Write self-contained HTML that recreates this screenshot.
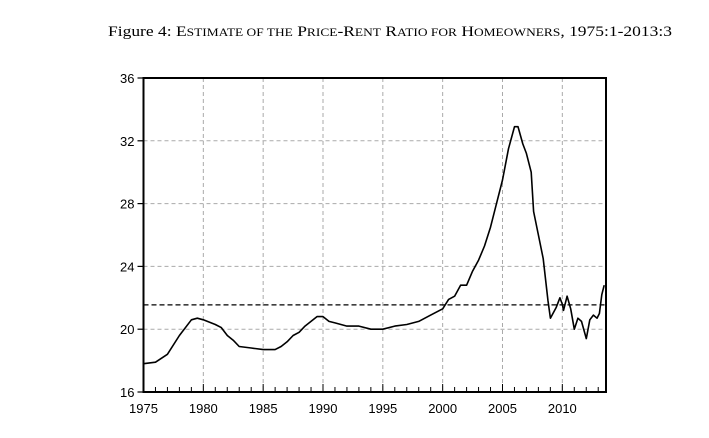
<!DOCTYPE html>
<html><head><meta charset="utf-8"><style>
body{margin:0;background:#fff;width:709px;height:438px;overflow:hidden}
</style></head><body>
<svg id="c" width="709" height="438" style="position:absolute;left:0;top:0">
<text x="108" y="36" textLength="564" lengthAdjust="spacingAndGlyphs" font-family="Liberation Serif,serif" font-size="15">Figure 4: E<tspan font-size="11.5">STIMATE OF THE</tspan> P<tspan font-size="11.5">RICE</tspan>-R<tspan font-size="11.5">ENT</tspan> R<tspan font-size="11.5">ATIO FOR</tspan> H<tspan font-size="11.5">OMEOWNERS</tspan>, 1975:1-2013:3</text>
</svg>
<script>
const years=[1975,1976,1977,1978,1979,1979.5,1980,1981,1981.5,1982,1982.5,1983,1984,1985,1986,1986.5,1987,1987.5,1988,1988.5,1989,1989.5,1990,1990.5,1991,1992,1993,1994,1995,1996,1997,1998,1999,2000,2000.5,2001,2001.5,2002,2002.5,2003,2003.5,2004,2004.5,2005,2005.5,2006,2006.3,2006.7,2007,2007.4,2007.6,2008,2008.4,2008.8,2009,2009.5,2009.8,2010,2010.1,2010.4,2010.7,2011,2011.3,2011.6,2012,2012.3,2012.6,2012.9,2013.1,2013.3,2013.5];
const ratio=[17.8,17.9,18.4,19.6,20.6,20.7,20.6,20.3,20.1,19.6,19.3,18.9,18.8,18.7,18.7,18.9,19.2,19.6,19.8,20.2,20.5,20.8,20.8,20.5,20.4,20.2,20.2,20.0,20.0,20.2,20.3,20.5,20.9,21.3,21.9,22.1,22.8,22.8,23.7,24.4,25.3,26.5,28.0,29.5,31.5,32.9,32.9,31.8,31.2,30.0,27.5,26.0,24.5,21.8,20.7,21.4,22.0,21.6,21.2,22.1,21.3,20.0,20.7,20.5,19.4,20.6,20.9,20.7,21.0,22.2,22.8];
const meanLevel=[21.55];
const yTicks=[16,20,24,28,32,36];
const xTicks=[1975,1980,1985,1990,1995,2000,2005,2010];
const X0=143.5,X1=606,Y0=392,Y1=78,xmin=1975,xmax=2013.65,ymin=16,ymax=36;
const sx=v=>X0+(v-xmin)/(xmax-xmin)*(X1-X0);
const sy=v=>Y0-(v-ymin)/(ymax-ymin)*(Y0-Y1);
const svg=document.getElementById('c');const NS='http://www.w3.org/2000/svg';
function mk(tag,a,name){const e=document.createElementNS(NS,tag);for(const k in a)e.setAttribute(k,a[k]);


svg.appendChild(e);return e;}
yTicks.forEach(v=>{const y=sy(v);
if(v>16&&v<36)mk('line',{x1:X0,x2:X1,y1:y,y2:y,stroke:'#aaa','stroke-dasharray':'4,3','stroke-width':1},'y-gridline');
mk('line',{x1:X0-6,x2:X0,y1:y,y2:y,stroke:'#000','stroke-width':1.2},'y-tick');
const t=mk('text',{x:X0-9,y:y+5,'text-anchor':'end','font-family':'Liberation Sans,sans-serif','font-size':13},'y-tick-label');t.textContent=v;});
xTicks.forEach(v=>{const x=sx(v);
if(v>1975)mk('line',{x1:x,x2:x,y1:Y1,y2:Y0,stroke:'#aaa','stroke-dasharray':'4,3','stroke-width':1},'x-gridline');
const t=mk('text',{x:x,y:Y0+21,'text-anchor':'middle','font-family':'Liberation Sans,sans-serif','font-size':13},'x-tick-label');t.textContent=v;});
for(let yr=1975;yr<=2013;yr++){const x=sx(yr);const L=(yr%5==0)?8:5;
mk('line',{x1:x,x2:x,y1:Y0,y2:Y0-L,stroke:'#000','stroke-width':1},'x-minor-tick');}
mk('line',{x1:X0,x2:X1,y1:sy(meanLevel[0]),y2:sy(meanLevel[0]),stroke:'#000','stroke-dasharray':'5,3','stroke-width':1.3},'mean-line');
mk('path',{d:years.map((y,i)=>(i?'L':'M')+sx(y).toFixed(1)+','+sy(ratio[i]).toFixed(1)).join(''),fill:'none',stroke:'#000','stroke-width':1.6,'stroke-linejoin':'round'},'price-rent-line');
mk('rect',{x:X0,y:Y1,width:X1-X0,height:Y0-Y1,fill:'none',stroke:'#000','stroke-width':2},'plot-frame');
</script>
</body></html>
